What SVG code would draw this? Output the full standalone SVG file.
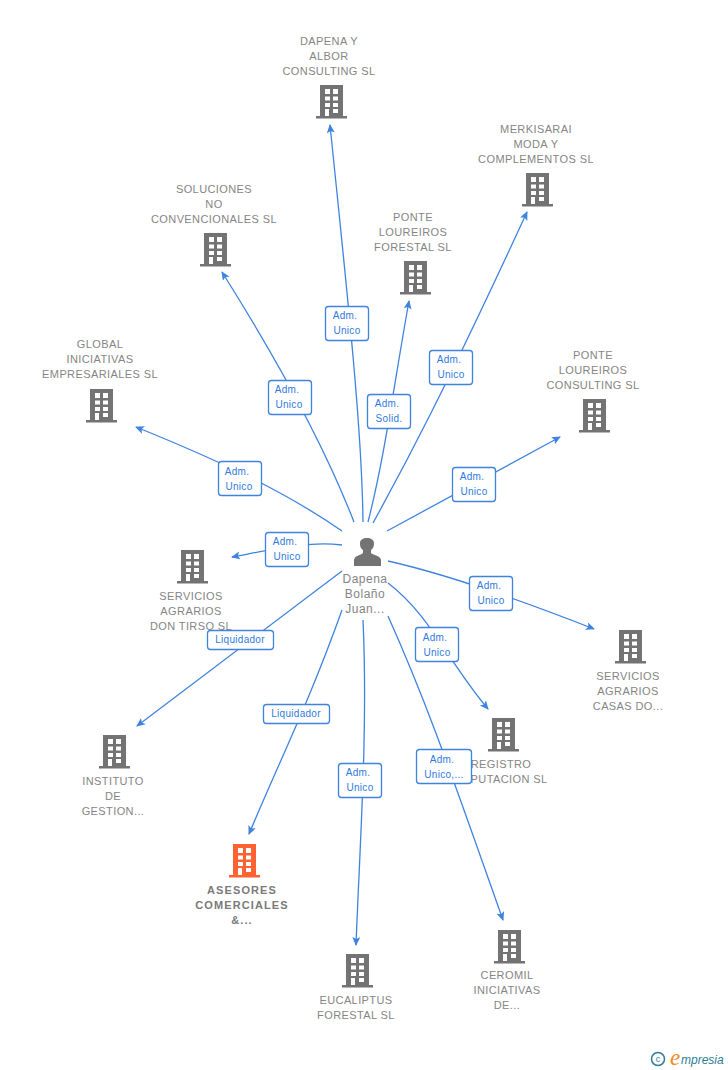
<svg xmlns="http://www.w3.org/2000/svg" width="728" height="1070" viewBox="0 0 728 1070">
<style>
text{font-family:"Liberation Sans",Arial,sans-serif}
.n{font-size:11px;fill:#858585;text-anchor:middle;letter-spacing:.4px}
.b{font-weight:bold;letter-spacing:1.1px;fill:#7a7a7a}
.p{font-size:12px;letter-spacing:.5px}
.e{fill:none;stroke:#3f83e0;stroke-width:1.3}
.l rect{fill:#fff;stroke:#3f83e0;stroke-width:1.3}
.l text{font-size:10px;fill:#2f7ae0;text-anchor:middle;letter-spacing:.3px}
</style>
<defs>
<marker id="a" markerWidth="10" markerHeight="10" refX="8" refY="4" orient="auto" markerUnits="userSpaceOnUse"><path d="M0 0L9 4L0 8L2 4Z" fill="#3f83e0"/></marker>
<path id="bd" fill-rule="evenodd" d="M-11 0H12V31H16V33.500H-15V31H-11ZM-6 4V9H-1V4ZM2 4V9H7V4ZM-6 11.500V15.500H-1V11.500ZM2 11.500V15.500H7V11.500ZM-6 18V22H-1V18ZM2 18V22H7V18ZM-6 24V31H-2V24ZM2 24V28H7V24Z"/>
</defs>
<rect width="728" height="1070" fill="#fff"/>
<g id="connectors">
<path class="e" marker-end="url(#a)" d="M363 522C362 430 348 300 330 125"/>
<path class="e" marker-end="url(#a)" d="M373 523C405 465 445 390 527 212"/>
<path class="e" marker-end="url(#a)" d="M354 522C330 460 290 380 222 272"/>
<path class="e" marker-end="url(#a)" d="M368 522C385 455 393 390 409 301"/>
<path class="e" marker-end="url(#a)" d="M342 531C290 495 230 465 136 427"/>
<path class="e" marker-end="url(#a)" d="M387 531L560 437"/>
<path class="e" marker-end="url(#a)" d="M342 545C310 541 280 548 232 557"/>
<path class="e" marker-end="url(#a)" d="M388 561C450 575 520 600 594 629"/>
<path class="e" marker-end="url(#a)" d="M388 583C430 615 447 660 488 709"/>
<path class="e" marker-end="url(#a)" d="M342 571L137 726"/>
<path class="e" marker-end="url(#a)" d="M342 610C310 700 280 760 249 834"/>
<path class="e" marker-end="url(#a)" d="M363 620C368 730 360 840 356 945"/>
<path class="e" marker-end="url(#a)" d="M388 616C430 710 455 785 503 920"/>
</g>
<g id="node-dapena-albor"><use href="#bd" x="331" y="85" fill="#737373"/><text class="n" x="329" y="45">DAPENA Y</text><text class="n" x="329" y="60">ALBOR</text><text class="n" x="329" y="75">CONSULTING SL</text></g>
<g id="node-merkisarai"><use href="#bd" x="537" y="173" fill="#737373"/><text class="n" x="536" y="133">MERKISARAI</text><text class="n" x="536" y="148">MODA Y</text><text class="n" x="536" y="163">COMPLEMENTOS SL</text></g>
<g id="node-soluciones"><use href="#bd" x="215" y="233" fill="#737373"/><text class="n" x="214" y="193">SOLUCIONES</text><text class="n" x="214" y="208">NO</text><text class="n" x="214" y="223">CONVENCIONALES SL</text></g>
<g id="node-ponte-forestal"><use href="#bd" x="415" y="261" fill="#737373"/><text class="n" x="413" y="221">PONTE</text><text class="n" x="413" y="236">LOUREIROS</text><text class="n" x="413" y="251">FORESTAL SL</text></g>
<g id="node-global"><use href="#bd" x="101" y="389" fill="#737373"/><text class="n" x="100" y="348">GLOBAL</text><text class="n" x="100" y="363">INICIATIVAS</text><text class="n" x="100" y="378">EMPRESARIALES SL</text></g>
<g id="node-ponte-consulting"><use href="#bd" x="594" y="399" fill="#737373"/><text class="n" x="593" y="359">PONTE</text><text class="n" x="593" y="374">LOUREIROS</text><text class="n" x="593" y="389">CONSULTING SL</text></g>
<g id="node-don-tirso"><use href="#bd" x="192" y="550" fill="#737373"/><text class="n" x="191" y="600">SERVICIOS</text><text class="n" x="191" y="615">AGRARIOS</text><text class="n" x="191" y="630">DON TIRSO SL</text></g>
<g id="node-casas"><use href="#bd" x="630" y="630" fill="#737373"/><text class="n" x="628" y="680">SERVICIOS</text><text class="n" x="628" y="695">AGRARIOS</text><text class="n" x="628" y="710">CASAS DO...</text></g>
<g id="node-registro"><use href="#bd" x="503" y="718" fill="#737373"/><text class="n" x="501" y="768">REGISTRO</text><text class="n" x="501" y="783">REPUTACION SL</text></g>
<g id="node-instituto"><use href="#bd" x="114" y="735" fill="#737373"/><text class="n" x="113" y="785">INSTITUTO</text><text class="n" x="113" y="800">DE</text><text class="n" x="113" y="815">GESTION...</text></g>
<g id="node-asesores"><use href="#bd" x="244" y="844" fill="#ff6232"/><text class="n b" x="242" y="894">ASESORES</text><text class="n b" x="242" y="909">COMERCIALES</text><text class="n b" x="242" y="924">&amp;...</text></g>
<g id="node-eucaliptus"><use href="#bd" x="357" y="954" fill="#737373"/><text class="n" x="356" y="1004">EUCALIPTUS</text><text class="n" x="356" y="1019">FORESTAL SL</text></g>
<g id="node-ceromil"><use href="#bd" x="509" y="930" fill="#737373"/><text class="n" x="507" y="979">CEROMIL</text><text class="n" x="507" y="994">INICIATIVAS</text><text class="n" x="507" y="1009">DE...</text></g>
<g id="node-dapena-person"><path d="M354 566V560C354 556 361 555 363 553V550C360 548 360 545 360 543C360 540 363 538 367 538C371 538 374 540 374 543C374 545 374 548 371 550V553C373 555 381 556 381 560V566Z" fill="#737373"/><text class="n p" x="365" y="583">Dapena</text><text class="n p" x="365" y="598">Bolaño</text><text class="n p" x="365" y="613">Juan...</text></g>
<g id="edge-labels">
<g class="l"><rect x="325.500" y="306.500" width="43" height="34" rx="3"/><text x="345" y="319">Adm.</text><text x="347" y="334">Unico</text></g>
<g class="l"><rect x="429.500" y="350.500" width="43" height="34" rx="3"/><text x="449" y="363">Adm.</text><text x="451" y="378">Unico</text></g>
<g class="l"><rect x="268.500" y="380.500" width="43" height="34" rx="3"/><text x="287" y="393">Adm.</text><text x="289" y="408">Unico</text></g>
<g class="l"><rect x="367.500" y="394.500" width="43" height="34" rx="3"/><text x="387" y="407">Adm.</text><text x="389" y="422">Solid.</text></g>
<g class="l"><rect x="218.500" y="461.500" width="43" height="34" rx="3"/><text x="237" y="475">Adm.</text><text x="239" y="490">Unico</text></g>
<g class="l"><rect x="452.500" y="467.500" width="43" height="34" rx="3"/><text x="472" y="480">Adm.</text><text x="474" y="495">Unico</text></g>
<g class="l"><rect x="265.500" y="532.500" width="43" height="34" rx="3"/><text x="285" y="545">Adm.</text><text x="287" y="560">Unico</text></g>
<g class="l"><rect x="469.500" y="576.500" width="43" height="34" rx="3"/><text x="489" y="589">Adm.</text><text x="491" y="604">Unico</text></g>
<g class="l"><rect x="415.500" y="627.500" width="43" height="34" rx="3"/><text x="435" y="641">Adm.</text><text x="437" y="656">Unico</text></g>
<g class="l"><rect x="207.500" y="630.500" width="66" height="19" rx="3"/><text x="240" y="643">Liquidador</text></g>
<g class="l"><rect x="263.500" y="704.500" width="66" height="19" rx="3"/><text x="296" y="717">Liquidador</text></g>
<g class="l"><rect x="338.500" y="763.500" width="43" height="34" rx="3"/><text x="358" y="776">Adm.</text><text x="360" y="791">Unico</text></g>
<g class="l"><rect x="416.500" y="749.500" width="55" height="34" rx="3"/><text x="442" y="763">Adm.</text><text x="444" y="778">Unico,...</text></g>
</g>
<g id="brand"><circle cx="658" cy="1059" r="6.500" fill="none" stroke="#2e7d95" stroke-width="1.500"/><text x="658" y="1062" font-size="9" fill="#2e7d95" text-anchor="middle">c</text><text x="670" y="1065" font-size="23" fill="#f08a1d" font-style="italic" style="font-family:'Liberation Serif',serif">e</text><text x="681" y="1064" font-size="12" fill="#2e7d95" font-style="italic">mpresia</text></g>
</svg>
